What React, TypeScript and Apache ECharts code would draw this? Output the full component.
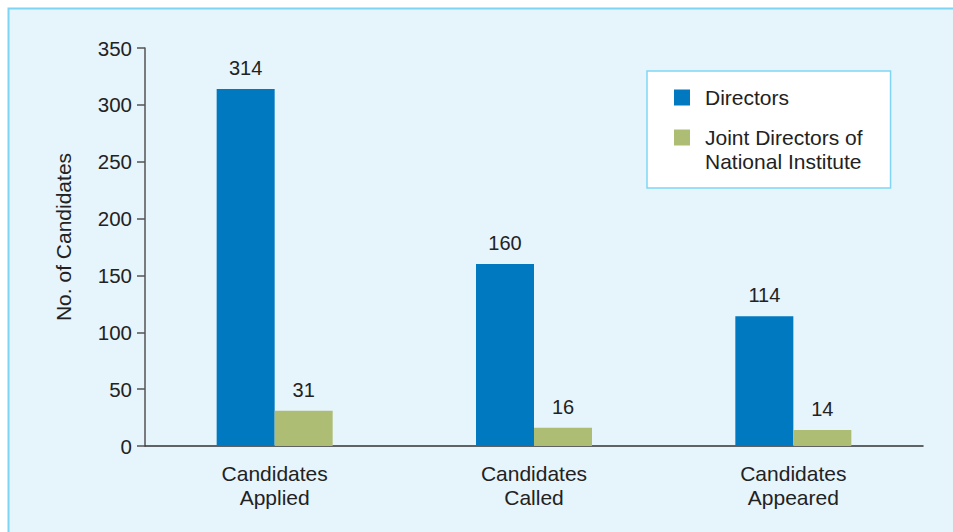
import React, { useEffect, useRef } from "react";
import * as echarts from "echarts";

const categories = ["Candidates\nApplied", "Candidates\nCalled", "Candidates\nAppeared"];
const seriesNames = ["Directors", "Joint Directors of National Institute"];
const directors = [314, 160, 114];
const jointDirectors = [31, 16, 14];
const yMin = 0;
const yMax = 350;
const yStep = 50;

const FONT = "'Liberation Sans', Arial, Helvetica, sans-serif";
const TEXT = "#222222";

export default function App() {
  const ref = useRef<HTMLDivElement>(null);

  useEffect(() => {
    document.body.style.margin = "0";
    document.body.style.overflow = "hidden";
    document.body.style.background = "#ffffff";
    if (!ref.current) return;
    const chart = echarts.init(ref.current, undefined, { renderer: "svg" });
    chart.setOption({
      animation: false,
      textStyle: { fontFamily: FONT, color: TEXT },
      graphic: [
        {
          type: "rect",
          z: -10,
          silent: true,
          shape: { x: 8.5, y: 8.5, width: 1200, height: 800 },
          style: { fill: "#e6f4fc", stroke: "#7dd4f4", lineWidth: 2 },
        },
      ],
      grid: { left: 145, right: 30, top: 48, bottom: 86, containLabel: false },
      legend: {
        orient: "vertical",
        left: 647,
        top: 71,
        padding: [14.5, 28, 14.5, 27],
        itemWidth: 16,
        itemHeight: 16,
        itemGap: -8,
        backgroundColor: "#ffffff",
        borderColor: "#7fd6f4",
        borderWidth: 1.5,
        icon: "rect",
        selectedMode: false,
        formatter: (name: string) =>
          name === seriesNames[1] ? "\nJoint Directors of\nNational Institute" : name,
        textStyle: {
          fontFamily: FONT,
          fontSize: 21,
          color: TEXT,
          lineHeight: 24,
          padding: [0, 0, 0, 10],
        },
        data: [{ name: seriesNames[0] }, { name: seriesNames[1] }],
      },
      xAxis: {
        type: "category",
        data: categories,
        axisLine: { show: true, lineStyle: { color: "#333333", width: 1.5 } },
        axisTick: { show: false },
        axisLabel: {
          fontFamily: FONT,
          fontSize: 21,
          color: TEXT,
          lineHeight: 24,
          margin: 15,
        },
      },
      yAxis: {
        type: "value",
        min: yMin,
        max: yMax,
        interval: yStep,
        name: "No. of Candidates",
        nameLocation: "middle",
        nameGap: 71,
        nameTextStyle: {
          fontFamily: FONT,
          fontSize: 21,
          color: TEXT,
          padding: [0, 0, 0, 20],
        },
        axisLine: { show: true, lineStyle: { color: "#555555", width: 1.5 } },
        axisTick: { show: true, length: 8, lineStyle: { color: "#555555", width: 1.5 } },
        axisLabel: { fontFamily: FONT, fontSize: 20.5, color: TEXT, margin: 13 },
        splitLine: { show: false },
      },
      series: [
        {
          name: seriesNames[0],
          type: "bar",
          data: directors,
          barWidth: 58,
          barGap: "0%",
          itemStyle: { color: "#0079c1" },
          label: {
            show: true,
            position: "top",
            distance: 11,
            fontFamily: FONT,
            fontSize: 20,
            color: TEXT,
          },
        },
        {
          name: seriesNames[1],
          type: "bar",
          data: jointDirectors,
          barWidth: 58,
          barGap: "0%",
          itemStyle: { color: "#aebd74" },
          label: {
            show: true,
            position: "top",
            distance: 11,
            fontFamily: FONT,
            fontSize: 20,
            color: TEXT,
          },
        },
      ],
    });
    return () => chart.dispose();
  }, []);

  return <div ref={ref} style={{ width: 953, height: 532 }} />;
}
